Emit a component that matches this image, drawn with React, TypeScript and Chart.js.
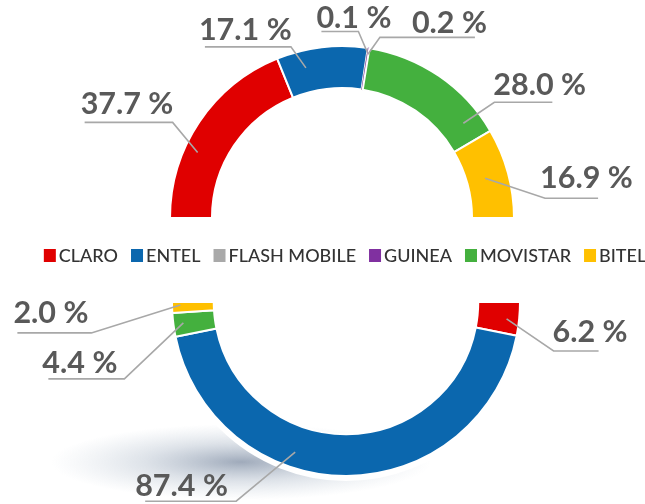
import { useEffect, useRef } from 'react';
import { Chart, registerables } from 'chart.js';
Chart.register(...registerables);

const categories = ['CLARO', 'ENTEL', 'FLASH MOBILE', 'GUINEA', 'MOVISTAR', 'BITEL'];
const topValues = [37.7, 17.1, 0.1, 0.2, 28.0, 16.9];
const bottomValues = [6.2, 87.4, 0, 0, 4.4, 2.0];
const sliceColors = ['#e00000', '#0b67ae', '#a9a9a9', '#8030a0', '#44b03e', '#ffc000'];

type LabelStyle = { t: number; rf: number; dx: number; dy: number; len: number; tx: number; ty: number } | null;

// t: fraction along slice, rf: fraction across ring, dx/dy: elbow offset, len: horizontal run, tx/ty: text offset from elbow
const topLabelStyle: LabelStyle[] = [
  { t: 0.36, rf: 0.68, dx: -25, dy: -30, len: -88, tx: -92, ty: -8 },
  { t: 0.28, rf: 0.58, dx: -15, dy: -21, len: -86, tx: -92, ty: -7 },
  { t: 0.5, rf: 0.89, dx: -9, dy: -21, len: -37, tx: -42, ty: -4 },
  { t: 0.5, rf: 0.85, dx: 12, dy: -17, len: 95, tx: 32, ty: -4 },
  { t: 0.85, rf: 0.57, dx: 31, dy: -21, len: 58, tx: -1, ty: -7 },
  { t: 0.49, rf: 0.44, dx: 60, dy: 20, len: 53, tx: -5, ty: -10 },
];
const bottomLabelStyle: LabelStyle[] = [
  { t: 0.54, rf: 0.7, dx: 47, dy: 32, len: 45, tx: -1, ty: -9 },
  { t: 0.62, rf: 0.63, dx: -59, dy: 49, len: -91, tx: -101, ty: -5 },
  null,
  null,
  { t: 0.53, rf: 0.76, dx: -59, dy: 56, len: -76, tx: -82, ty: -6 },
  { t: 0.72, rf: 0.8, dx: -89, dy: 28, len: -74, tx: -78, ty: -10 },
];

const LABEL_FONT = 'bold 30.5px Lato';
const LABEL_COLOR = '#595959';
const LINE_COLOR = '#a8a8a8';

function makeCallouts(styles: LabelStyle[], values: number[]) {
  return {
    id: 'callouts',
    afterDatasetsDraw(chart: any) {
      const ctx = chart.ctx;
      const meta = chart.getDatasetMeta(0);
      ctx.save();
      meta.data.forEach((arc: any, i: number) => {
        const s = styles[i];
        if (!s || !values[i]) return;
        const p = arc.getProps(['x', 'y', 'startAngle', 'endAngle', 'innerRadius', 'outerRadius'], true);
        const a = p.startAngle + s.t * (p.endAngle - p.startAngle);
        const r = p.innerRadius + s.rf * (p.outerRadius - p.innerRadius);
        const sx = p.x + r * Math.cos(a);
        const sy = p.y + r * Math.sin(a);
        const ex = sx + s.dx;
        const ey = sy + s.dy;
        ctx.strokeStyle = LINE_COLOR;
        ctx.lineWidth = 1.6;
        ctx.beginPath();
        ctx.moveTo(sx, sy);
        ctx.lineTo(ex, ey);
        ctx.lineTo(ex + s.len, ey);
        ctx.stroke();
        ctx.fillStyle = LABEL_COLOR;
        ctx.font = LABEL_FONT;
        ctx.textAlign = 'left';
        ctx.textBaseline = 'alphabetic';
        ctx.fillText(values[i].toFixed(1) + ' %', ex + s.tx, ey + s.ty);
      });
      ctx.restore();
    },
  };
}

const legendPlugin = {
  id: 'customLegend',
  afterDraw(chart: any) {
    const ctx = chart.ctx;
    ctx.save();
    ctx.font = '500 18px Lato';
    const box = 12;
    const boxGap = 3;
    const itemGap = 13;
    const widths = categories.map((c) => ctx.measureText(c).width);
    const total = widths.reduce((s, w) => s + box + boxGap + w, 0) + itemGap * (categories.length - 1);
    let x = 345 - total / 2;
    const baseline = 262;
    categories.forEach((c, i) => {
      ctx.fillStyle = sliceColors[i];
      ctx.fillRect(x, baseline - 13, box, 13);
      ctx.fillStyle = '#333333';
      ctx.textAlign = 'left';
      ctx.textBaseline = 'alphabetic';
      ctx.fillText(c, x + box + boxGap, baseline);
      x += box + boxGap + widths[i] + itemGap;
    });
    ctx.restore();
  },
};

const shadowPlugin = {
  id: 'arcShadow',
  beforeDatasetsDraw(chart: any) {
    const ctx = chart.ctx;
    const meta = chart.getDatasetMeta(0);
    const arc = meta.data[1];
    if (!arc) return;
    const p = arc.getProps(['x', 'y', 'outerRadius'], true);
    ctx.save();
    ctx.translate(p.x - 105, p.y + p.outerRadius - 14);
    ctx.scale(1, 0.2);
    const g = ctx.createRadialGradient(0, 0, 0, 0, 0, 190);
    g.addColorStop(0, 'rgba(80,100,130,0.55)');
    g.addColorStop(0.5, 'rgba(120,140,165,0.25)');
    g.addColorStop(1, 'rgba(150,170,190,0)');
    ctx.fillStyle = g;
    ctx.beginPath();
    ctx.arc(0, 0, 190, 0, Math.PI * 2);
    ctx.fill();
    ctx.restore();
    ctx.save();
    ctx.strokeStyle = '#ffffff';
    ctx.lineWidth = 6;
    ctx.beginPath();
    ctx.arc(p.x, p.y, p.outerRadius + 2, 0, Math.PI);
    ctx.stroke();
    ctx.restore();
  },
};

function useDoughnut(
  ref: React.RefObject<HTMLCanvasElement | null>,
  values: number[],
  rotation: number,
  cutout: string,
  padding: { top: number; left: number; right: number; bottom: number },
  plugins: any[]
) {
  useEffect(() => {
    if (!ref.current) return;
    const chart = new Chart(ref.current, {
      type: 'doughnut',
      data: {
        labels: categories,
        datasets: [
          {
            data: values,
            backgroundColor: sliceColors,
            borderColor: ['#ffffff', '#ffffff', '#c8c8c8', '#8030a0', '#ffffff', '#ffffff'],
            borderWidth: [2, 2, 1, 1, 2, 2],
          },
        ],
      },
      options: {
        responsive: false,
        animation: false,
        rotation,
        circumference: 180,
        cutout,
        layout: { padding },
        plugins: { legend: { display: false }, tooltip: { enabled: false } },
        events: [],
      },
      plugins,
    } as any);
    return () => chart.destroy();
  }, []);
}

export default function App() {
  const topRef = useRef<HTMLCanvasElement>(null);
  const bottomRef = useRef<HTMLCanvasElement>(null);

  useDoughnut(topRef, topValues, -90, '75.6%', { top: 45, left: 168, right: 129, bottom: 285 }, [
    makeCallouts(topLabelStyle, topValues),
    legendPlugin,
  ]);
  useDoughnut(bottomRef, bottomValues, 90, '76%', { top: 301, left: 171, right: 124, bottom: 27 }, [
    shadowPlugin,
    makeCallouts(bottomLabelStyle, bottomValues),
  ]);

  const cs: React.CSSProperties = { position: 'absolute', left: 0, top: 0 };
  return (
    <div style={{ position: 'fixed', left: 0, top: 0, width: 645, height: 504, background: '#fff' }}>
      <canvas ref={bottomRef} width={645} height={504} style={cs} />
      <canvas ref={topRef} width={645} height={504} style={cs} />
    </div>
  );
}
